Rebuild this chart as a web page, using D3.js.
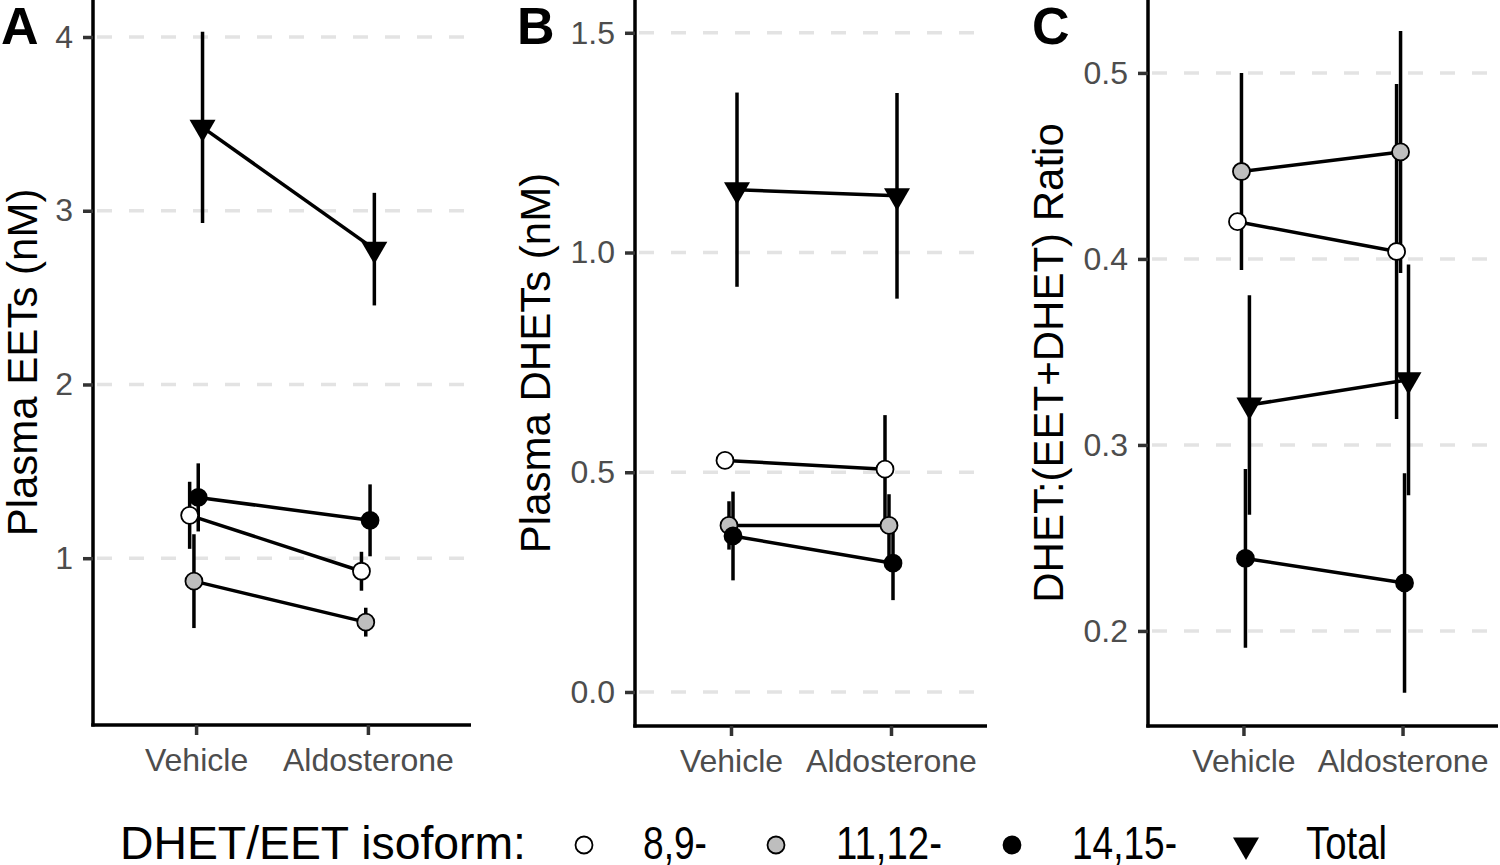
<!DOCTYPE html>
<html><head><meta charset="utf-8">
<script src="https://cdn.jsdelivr.net/npm/d3@7"></script>
<style>body{margin:0;background:#fff} svg{display:block} text{font-family:"Liberation Sans",Arial,sans-serif}</style>
</head><body><svg id="c" width="1500" height="865"></svg>
<script>
// ---------- data ----------
const categories = ["Vehicle", "Aldosterone"];
const isoforms = ["8,9-", "11,12-", "14,15-", "Total"];
// rows follow isoforms, columns follow categories
const eetMean = [[1.247, 0.925], [0.868, 0.632], [1.35, 1.218], [3.48, 2.779]];
const eetErr = [[0.193, 0.112], [0.27, 0.083], [0.196, 0.207], [0.55, 0.324]];
const dhetMean = [[0.527, 0.507], [0.379, 0.379], [0.355, 0.293], [1.143, 1.129]];
const dhetErr = [[0.005, 0.123], [0.055, 0.071], [0.101, 0.084], [0.221, 0.234]];
const ratioMean = [[0.420, 0.404], [0.447, 0.4575], [0.239, 0.2258], [0.3215, 0.335]];
const ratioErr = [[0.004, 0.09], [0.053, 0.065], [0.048, 0.059], [0.059, 0.062]];
const eetTicks = [1, 2, 3, 4];
const dhetTicks = [0, 0.5, 1.0, 1.5];
const ratioTicks = [0.2, 0.3, 0.4, 0.5];
const legendTitle = "DHET/EET isoform:";

// ---------- styles ----------
const isoFill = ["#FFFFFF", "#BEBEBE", "#000000", "#000000"];
const svg = d3.select("#c");
svg.append("rect").attr("width", 1500).attr("height", 865).attr("fill", "#fff");

const triSym = d3.symbol(d3.symbolTriangle, 293);

function drawMarker(g, i, cx, cy) {
  if (i === 3) {
    g.append("path").attr("d", triSym()).attr("transform", `translate(${cx},${cy}) rotate(180)`)
      .attr("fill", "#000");
  } else {
    g.append("circle").attr("cx", cx).attr("cy", cy).attr("r", 8.5)
      .attr("fill", isoFill[i]).attr("stroke", "#000").attr("stroke-width", 1.8);
  }
}

function drawPanel(cfg) {
  const { means, errs, ticks, fmt, domain, x0, x1, bottom, letter, letterX, title, titleX } = cfg;
  const g = svg.append("g");
  const y = d3.scaleLinear().domain(domain).range([bottom, 0]);
  const x = d3.scalePoint().domain(categories).range([x0, x1]).padding(0.6);
  const step = x.step();
  const dodge = i => step * 0.1 * (-3 / 8 + i / 4);

  // grid
  g.append("g").selectAll("line").data(ticks).join("line")
    .attr("x1", x0 + 4).attr("x2", x1).attr("y1", d => y(d)).attr("y2", d => y(d))
    .attr("stroke", "#E3E3E3").attr("stroke-width", 3.5).attr("stroke-dasharray", "15,17");

  // axes
  const ya = g.append("g").attr("transform", `translate(${x0},0)`)
    .call(d3.axisLeft(y).tickValues(ticks).tickFormat(fmt).tickSize(10).tickSizeOuter(0).tickPadding(10));
  const xa = g.append("g").attr("transform", `translate(0,${bottom})`)
    .call(d3.axisBottom(x).tickSize(10).tickSizeOuter(0).tickPadding(13));
  [ya, xa].forEach(a => {
    a.select(".domain").attr("stroke", "#000").attr("stroke-width", 3.5);
    a.selectAll(".tick line").attr("stroke", "#333").attr("stroke-width", 3.5);
    a.selectAll(".tick text").attr("fill", "#4D4D4D").attr("font-size", 32)
      .attr("font-family", '"Liberation Sans",Arial,sans-serif');
  });
  ya.select(".domain").attr("d", `M0,${bottom + 1.5}V0`);
  xa.select(".domain").attr("d", `M${x0 - 1.75},0H${x1}`);

  // error bars
  isoforms.forEach((iso, i) => {
    categories.forEach((c, j) => {
      const cx = x(c) + dodge(i);
      g.append("line").attr("x1", cx).attr("x2", cx)
        .attr("y1", y(means[i][j] - errs[i][j])).attr("y2", y(means[i][j] + errs[i][j]))
        .attr("stroke", "#000").attr("stroke-width", 3.5);
    });
  });
  // connecting lines
  const line = d3.line().x(d => d[0]).y(d => d[1]);
  isoforms.forEach((iso, i) => {
    const pts = categories.map((c, j) => [x(c) + dodge(i), y(means[i][j])]);
    g.append("path").attr("d", line(pts)).attr("fill", "none")
      .attr("stroke", "#000").attr("stroke-width", 3.5);
  });
  // points
  isoforms.forEach((iso, i) => {
    categories.forEach((c, j) => drawMarker(g, i, x(c) + dodge(i), y(means[i][j])));
  });

  // titles
  g.append("text").attr("x", letterX).attr("y", 44).attr("font-size", 52)
    .attr("font-weight", "bold").attr("fill", "#000").text(letter);
  g.append("text").attr("transform", `translate(${titleX},${bottom / 2}) rotate(-90)`)
    .attr("text-anchor", "middle").attr("font-size", 42).attr("fill", "#000").text(title);
}

drawPanel({ means: eetMean, errs: eetErr, ticks: eetTicks, fmt: d3.format("d"),
  domain: [0.04, 4.213], x0: 93, x1: 471, bottom: 725, letter: "A", letterX: 1,
  title: "Plasma EETs (nM)", titleX: 37 });
drawPanel({ means: dhetMean, errs: dhetErr, ticks: dhetTicks, fmt: d3.format(".1f"),
  domain: [-0.0774, 1.5746], x0: 635, x1: 987, bottom: 726, letter: "B", letterX: 517,
  title: "Plasma DHETs (nM)", titleX: 550 });
drawPanel({ means: ratioMean, errs: ratioErr, ticks: ratioTicks, fmt: d3.format(".1f"),
  domain: [0.1489, 0.5392], x0: 1148, x1: 1498, bottom: 726, letter: "C", letterX: 1032,
  title: "DHET:(EET+DHET) Ratio", titleX: 1063 });

// legend
const lg = svg.append("g");
lg.append("text").attr("x", 120).attr("y", 859).attr("font-size", 47)
  .attr("textLength", 406).attr("lengthAdjust", "spacingAndGlyphs").attr("fill", "#000").text(legendTitle);
const keyX = [584, 776, 1012, 1246];
const labX = [643, 836, 1072, 1306];
const labW = [64, 106, 105, 81];
isoforms.forEach((iso, i) => {
  drawMarker(lg, i, keyX[i], 845);
  lg.append("text").attr("x", labX[i]).attr("y", 859).attr("font-size", 47)
    .attr("textLength", labW[i]).attr("lengthAdjust", "spacingAndGlyphs").attr("fill", "#000").text(iso);
});
</script></body></html>
